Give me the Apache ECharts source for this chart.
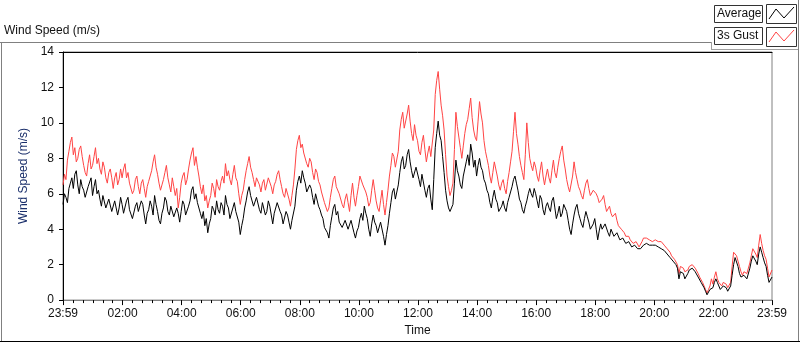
<!DOCTYPE html>
<html>
<head>
<meta charset="utf-8">
<script src="https://cdn.jsdelivr.net/npm/echarts@6/dist/echarts.min.js"></script>
<style>
  html, body { margin: 0; padding: 0; background: #fff; }
  #chart { width: 800px; height: 342px; }
</style>
</head>
<body>
<div id="chart"></div>
<script>
// x is minutes after 23:59 of the previous day; samples are every 3 minutes
var spanMin = 1440;
var seriesNames = ['Average', '3s Gust'];
var tickClock = ['23:59', '02:00', '04:00', '06:00', '08:00', '10:00', '12:00',
  '14:00', '16:00', '18:00', '20:00', '22:00', '23:59'];

// one row per hour
var average = [
  5.4, 6.0, 5.8, 5.5, 6.3, 6.6, 6.9, 6.3, 7.1, 7.3, 6.5, 6.0, 6.8, 6.4, 6.2, 5.8, 5.7, 6.4, 6.3, 6.9,
  5.9, 6.4, 6.8, 6.0, 6.2, 5.7, 5.3, 5.9, 5.8, 5.2, 5.1, 5.7, 5.6, 5.0, 4.9, 5.6, 5.5, 4.8, 5.2, 5.8,
  5.4, 4.9, 5.0, 5.6, 5.8, 5.1, 5.2, 4.6, 4.7, 5.3, 5.5, 5.0, 4.9, 5.6, 5.4, 4.8, 4.3, 4.9, 5.1, 5.6,
  5.3, 4.8, 5.9, 5.4, 5.0, 4.5, 4.3, 4.9, 5.2, 5.8, 5.6, 5.0, 4.8, 5.3, 5.4, 4.7, 4.6, 5.2, 4.9, 4.4,
  5.0, 5.6, 5.4, 4.8, 4.9, 5.3, 5.6, 6.2, 6.4, 5.7, 6.0, 5.5, 5.4, 4.9, 4.6, 5.0, 4.2, 4.6, 3.8, 4.3,
  4.6, 5.3, 5.1, 4.8, 5.6, 5.1, 4.9, 5.5, 5.3, 4.8, 5.9, 5.4, 5.2, 4.6, 4.7, 5.2, 5.5, 5.0, 5.0, 4.4,
  3.7, 4.2, 4.6, 5.2, 5.6, 6.1, 6.4, 5.9, 5.8, 5.3, 5.2, 5.8, 5.7, 5.1, 4.9, 5.5, 5.4, 4.8, 5.0, 5.6,
  5.3, 4.8, 4.3, 4.9, 5.0, 5.5, 5.6, 5.0, 4.8, 4.3, 4.4, 5.0, 4.8, 4.4, 4.0, 4.5, 4.6, 5.3, 6.2, 6.7,
  7.0, 6.6, 7.3, 6.9, 6.6, 6.1, 6.0, 6.5, 6.3, 5.8, 5.4, 6.0, 5.9, 5.3, 5.1, 4.8, 4.6, 4.1, 4.2, 3.8,
  3.5, 4.2, 4.7, 5.2, 5.4, 4.8, 5.0, 4.4, 4.5, 4.1, 4.0, 4.5, 4.6, 4.0, 3.9, 4.5, 4.4, 3.8, 3.5, 3.9,
  4.1, 4.6, 4.9, 4.5, 5.3, 4.9, 4.6, 4.0, 3.6, 4.3, 4.8, 4.4, 4.2, 3.8, 3.7, 4.4, 4.3, 3.6, 3.1, 3.7,
  4.2, 4.9, 5.5, 6.1, 6.3, 5.7, 5.6, 6.5, 7.2, 7.8, 8.1, 7.4, 7.6, 8.2, 8.5, 7.8, 7.3, 6.9, 6.8, 7.5,
  7.4, 6.8, 6.4, 7.1, 7.0, 6.2, 5.8, 6.3, 6.5, 5.7, 5.1, 6.8, 8.6, 9.4, 10.1, 9.3, 9.0, 8.1, 7.2, 6.2,
  5.6, 5.2, 5.0, 4.9, 5.4, 6.6, 7.9, 7.3, 7.0, 6.5, 6.3, 7.0, 7.4, 7.8, 8.2, 7.6, 8.8, 8.3, 7.5, 7.9,
  7.0, 7.6, 8.0, 7.5, 7.3, 6.8, 6.6, 6.2, 6.0, 5.5, 5.2, 5.8, 6.2, 5.7, 5.5, 5.0, 4.9, 5.3, 5.6, 5.2,
  5.0, 5.5, 5.8, 6.1, 6.4, 6.8, 7.0, 6.6, 6.2, 5.7, 5.5, 5.1, 4.9, 5.3, 5.6, 6.0, 6.3, 6.0, 5.8, 6.3,
  6.0, 5.6, 5.2, 5.9, 5.7, 5.1, 4.8, 5.3, 5.5, 5.2, 5.0, 5.6, 5.8, 5.2, 4.6, 4.9, 5.3, 4.7, 4.9, 5.4,
  5.5, 5.0, 4.5, 4.0, 3.7, 4.3, 4.8, 5.2, 5.4, 4.9, 4.6, 4.3, 4.1, 4.6, 5.0, 4.7, 4.4, 4.0, 3.9, 4.3,
  4.6, 4.0, 3.4, 3.9, 4.3, 4.0, 3.9, 4.3, 4.2, 3.8, 3.6, 4.0, 3.9, 3.6, 3.5, 3.8, 3.7, 3.4, 3.3, 3.5,
  3.4, 3.2, 3.1, 3.3, 3.2, 3.0, 2.9, 3.1, 3.0, 2.9, 2.8, 2.9, 3.0, 3.1, 3.1, 3.2, 3.2, 3.1, 3.0, 3.1,
  3.0, 3.1, 3.1, 3.0, 3.0, 2.9, 2.9, 2.8, 2.7, 2.6, 2.5, 2.4, 2.3, 2.2, 2.1, 2.0, 1.8, 1.2, 1.6, 1.5,
  1.5, 1.2, 1.1, 1.5, 1.7, 1.8, 1.8, 1.7, 1.6, 1.5, 1.3, 1.2, 1.0, 0.9, 0.7, 0.5, 0.3, 0.4, 0.6, 0.7,
  0.7, 1.0, 1.2, 1.0, 0.8, 0.6, 0.6, 0.8, 0.9, 0.7, 0.5, 0.6, 0.8, 1.4, 2.0, 2.4, 2.3, 1.9, 1.5, 1.3,
  1.2, 1.4, 1.5, 1.2, 1.3, 1.8, 2.2, 2.5, 2.6, 2.2, 2.0, 2.6, 3.0, 2.7, 2.4, 2.1, 1.9, 1.4, 1.0, 0.9, 1.3
];

var gust = [
  6.5, 7.1, 6.8, 7.9, 8.4, 8.9, 9.2, 8.2, 8.6, 7.8, 8.0, 8.5, 8.7, 8.1, 7.6, 7.2, 7.0, 7.7, 8.2, 7.4,
  7.6, 8.1, 8.6, 7.7, 8.0, 7.4, 7.1, 7.8, 7.5, 6.9, 6.6, 7.2, 7.4, 6.9, 6.3, 6.9, 7.2, 6.5, 6.8, 7.4,
  6.9, 7.4, 7.7, 6.9, 7.2, 6.6, 6.5, 6.0, 6.2, 6.8, 7.0, 6.4, 6.0, 6.6, 6.8, 6.3, 5.8, 6.4, 6.7, 7.0,
  7.3, 7.8, 8.2, 7.5, 7.1, 6.6, 6.2, 6.5, 6.8, 7.2, 7.6, 6.9, 6.5, 6.1, 6.9, 6.4, 5.9, 6.3, 5.2, 5.8,
  6.6, 7.0, 7.2, 6.5, 6.8, 7.4, 7.9, 8.3, 8.6, 7.6, 8.1, 7.5, 7.0, 6.4, 6.0, 6.5, 5.6, 5.9, 5.2, 5.6,
  5.9, 6.6, 6.3, 5.8, 6.8, 6.4, 6.2, 6.7, 7.0, 6.6, 7.7, 7.0, 7.3, 6.8, 6.5, 7.1, 7.6, 6.9, 6.7, 6.0,
  5.4, 5.9, 6.2, 6.8, 7.3, 7.7, 8.1, 7.5, 7.2, 6.8, 6.4, 6.9, 7.0, 6.5, 6.1, 6.6, 6.8, 6.2, 6.3, 6.9,
  6.9, 6.4, 6.0, 6.5, 6.7, 7.1, 7.3, 6.8, 6.4, 6.0, 5.8, 6.3, 6.2, 5.7, 5.3, 5.9, 6.5, 7.4, 8.5, 9.0,
  9.3, 8.6, 8.8, 8.3, 8.2, 7.7, 7.5, 8.0, 7.8, 7.2, 6.8, 7.4, 7.2, 6.7, 6.5, 6.1, 6.0, 5.5, 5.6, 5.0,
  5.2, 5.8, 6.3, 6.8, 7.0, 6.4, 6.5, 6.0, 5.9, 5.4, 5.2, 5.7, 6.0, 5.5, 5.0, 5.9, 6.6, 5.8, 5.3, 5.9,
  6.4, 7.0, 7.1, 6.5, 6.6, 6.1, 5.8, 5.3, 5.5, 6.2, 6.8, 6.2, 5.6, 5.2, 5.0, 5.6, 6.2, 5.4, 4.8, 5.5,
  6.2, 7.0, 7.6, 8.3, 8.1, 7.5, 7.4, 8.4, 9.6, 10.2, 10.6, 9.7, 9.8, 10.5, 11.0, 10.1, 9.4, 9.0, 9.9, 9.3,
  9.0, 8.4, 8.2, 8.9, 9.3, 8.5, 7.8, 8.3, 8.7, 8.1, 8.0, 9.6, 11.6, 12.4, 12.9, 11.9, 11.0, 10.4, 9.6, 8.2,
  7.0, 6.4, 5.9, 6.2, 6.6, 8.5, 10.6, 9.8, 9.2, 8.6, 8.0, 8.7, 9.4, 9.9, 10.2, 10.8, 11.4, 10.3, 9.6, 9.2,
  9.0, 10.1, 11.2, 10.5, 10.0, 9.0, 8.4, 8.0, 7.6, 7.0, 6.6, 7.2, 7.8, 7.4, 7.0, 6.5, 6.2, 6.6, 6.8, 6.3,
  6.0, 6.7, 7.2, 7.8, 8.4, 9.5, 10.6, 9.4, 8.8, 8.1, 7.6, 7.2, 6.8, 8.2, 10.0, 8.9, 8.0, 7.6, 7.3, 7.8,
  7.5, 7.0, 6.7, 7.3, 7.8, 7.0, 6.5, 7.0, 7.4, 6.9, 6.6, 7.3, 7.9, 7.2, 6.9, 7.5, 8.0, 8.4, 8.7, 7.9,
  7.4, 6.8, 6.4, 6.1, 6.0, 7.0, 7.8, 7.2, 6.8, 6.4, 6.2, 5.9, 5.7, 6.2, 6.6, 6.8, 6.3, 5.9, 5.8, 6.2,
  6.3, 6.0, 5.8, 5.5, 5.4, 5.7, 5.9, 5.4, 5.0, 5.1, 5.3, 4.9, 4.7, 4.8, 4.9, 4.5, 4.2, 4.3, 4.0, 3.9,
  3.8, 3.6, 3.5, 3.6, 3.4, 3.3, 3.2, 3.3, 3.3, 3.2, 3.0, 3.1, 3.3, 3.5, 3.6, 3.5, 3.5, 3.4, 3.4, 3.3,
  3.3, 3.4, 3.4, 3.3, 3.3, 3.3, 3.2, 3.1, 3.0, 2.9, 2.8, 2.7, 2.5, 2.4, 2.3, 2.2, 2.0, 1.5, 1.9, 1.8,
  1.8, 1.6, 1.5, 1.7, 1.9, 2.0, 2.0, 1.9, 1.8, 1.7, 1.5, 1.3, 1.2, 1.0, 0.9, 0.6, 0.4, 0.6, 0.8, 1.2,
  0.9, 1.3, 1.6, 1.2, 1.0, 0.9, 0.8, 1.0, 1.1, 0.9, 0.7, 0.8, 1.0, 1.9, 2.7, 2.6, 2.5, 2.2, 1.9, 1.6,
  1.4, 1.6, 1.7, 1.5, 1.6, 2.1, 2.5, 2.9, 3.0, 2.6, 2.4, 3.1, 3.7, 3.2, 2.8, 2.5, 2.3, 1.8, 1.3, 1.2, 1.7
];

function pairs(arr) {
  var step = spanMin / (arr.length - 1);
  return arr.map(function (v, i) { return [i * step, v]; });
}

// major ticks: 23:59 then every 2 hours on the clock, minor ticks every 20 minutes
var majorTicks = [0];
for (var m = 121; m < spanMin; m += 120) majorTicks.push(m);
majorTicks.push(spanMin);
var minorTicks = [];
for (var n = 21; n < spanMin; n += 20) {
  if ((n - 1) % 120 !== 0) minorTicks.push(n);
}

var font = 'Liberation Sans';
var chart = echarts.init(document.getElementById('chart'));

var option = {
  animation: false,
  backgroundColor: '#fff',
  grid: {
    left: 63, right: 28, top: 52, bottom: 39,
    show: true, borderColor: '#808080', borderWidth: 1
  },
  xAxis: [
    {
      type: 'value', min: 0, max: spanMin,
      name: 'Time', nameLocation: 'middle', nameGap: 24,
      nameTextStyle: { color: '#111', fontFamily: font, fontSize: 12 },
      axisLine: { show: true, lineStyle: { color: '#808080', width: 1 } },
      axisTick: { show: true, customValues: majorTicks, length: 5, lineStyle: { color: '#000' } },
      axisLabel: {
        customValues: majorTicks, color: '#111', fontFamily: font, fontSize: 12, margin: 8,
        formatter: function (v) { return tickClock[majorTicks.indexOf(v)] || ''; }
      },
      splitLine: { show: false }
    },
    {
      type: 'value', min: 0, max: spanMin, position: 'bottom',
      axisLine: { show: false },
      axisTick: { show: true, customValues: minorTicks, length: 3, lineStyle: { color: '#000' } },
      axisLabel: { show: false },
      splitLine: { show: false }
    },
    {
      type: 'value', min: 0, max: spanMin, position: 'top',
      axisLine: { show: true, lineStyle: { color: '#000', width: 1 } },
      axisTick: { show: false }, axisLabel: { show: false }, splitLine: { show: false }
    }
  ],
  yAxis: {
    type: 'value', min: 0, max: 14, interval: 2,
    name: 'Wind Speed (m/s)', nameLocation: 'middle', nameGap: 25, nameRotate: 90,
    nameTextStyle: { color: '#1a2f6b', fontFamily: font, fontSize: 12 },
    axisLine: { show: true, lineStyle: { color: '#000', width: 1 } },
    axisTick: { show: true, length: 4, lineStyle: { color: '#000' } },
    axisLabel: { color: '#111', fontFamily: font, fontSize: 12, margin: 9 },
    splitLine: { show: false }
  },
  series: [
    {
      name: seriesNames[1], type: 'line', data: pairs(gust),
      showSymbol: false, lineStyle: { color: '#ff4444', width: 1 }
    },
    {
      name: seriesNames[0], type: 'line', data: pairs(average),
      showSymbol: false, lineStyle: { color: '#000', width: 1 }
    }
  ],
  graphic: [
    // outer panel frame
    { type: 'line', shape: { x1: 0, y1: 42.5, x2: 712, y2: 42.5 }, style: { stroke: '#808080', lineWidth: 1 } },
    { type: 'line', shape: { x1: 1.5, y1: 42, x2: 1.5, y2: 341 }, style: { stroke: '#808080', lineWidth: 1 } },
    { type: 'line', shape: { x1: 0, y1: 341.5, x2: 800, y2: 341.5 }, style: { stroke: '#000', lineWidth: 1 } },
    { type: 'line', shape: { x1: 798.5, y1: 0, x2: 798.5, y2: 341 }, style: { stroke: '#808080', lineWidth: 1 } },
    { type: 'line', shape: { x1: 711.5, y1: 42, x2: 711.5, y2: 49 }, style: { stroke: '#a0a0a0', lineWidth: 1 } },
    { type: 'line', shape: { x1: 711, y1: 49.5, x2: 798, y2: 49.5 }, style: { stroke: '#a0a0a0', lineWidth: 1 } },
    // graph title
    { type: 'text', left: 4, top: 25, style: { text: 'Wind Speed (m/s)', fill: '#111', font: '12px "Liberation Sans"' } },
    // plot legend
    { type: 'rect', shape: { x: 714.5, y: 5.5, width: 48, height: 17 }, style: { fill: '#fff', stroke: '#333', lineWidth: 1 } },
    { type: 'text', x: 717, y: 8, style: { text: seriesNames[0], fill: '#111', font: '12px "Liberation Sans"' } },
    { type: 'rect', shape: { x: 766.5, y: 4.5, width: 30, height: 19 }, style: { fill: '#fff', stroke: '#333', lineWidth: 1 } },
    { type: 'polyline', shape: { points: [[769, 19], [776, 9], [784, 18], [794, 7]] }, style: { stroke: '#000', fill: null, lineWidth: 1 } },
    { type: 'rect', shape: { x: 714.5, y: 27.5, width: 48, height: 17 }, style: { fill: '#fff', stroke: '#333', lineWidth: 1 } },
    { type: 'text', x: 717, y: 30, style: { text: seriesNames[1], fill: '#111', font: '12px "Liberation Sans"' } },
    { type: 'rect', shape: { x: 766.5, y: 27.5, width: 30, height: 19 }, style: { fill: '#fff', stroke: '#333', lineWidth: 1 } },
    { type: 'polyline', shape: { points: [[769, 42], [776, 32], [784, 41], [794, 30]] }, style: { stroke: '#ff4444', fill: null, lineWidth: 1 } }
  ]
};

chart.setOption(option);
</script>
</body>
</html>
